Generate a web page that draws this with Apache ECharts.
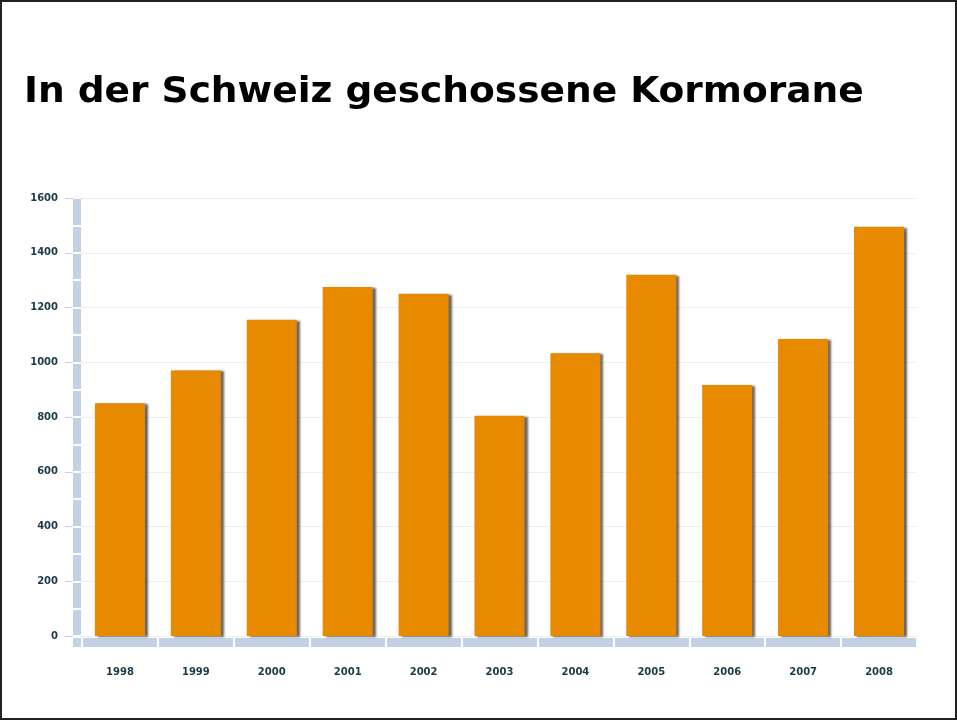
<!DOCTYPE html>
<html>
<head>
<meta charset="utf-8">
<script src="https://cdn.jsdelivr.net/npm/echarts@6/dist/echarts.min.js"></script>
<style>
html,body{margin:0;padding:0;background:#fff;}
#chart{width:957px;height:720px;}
</style>
</head>
<body>
<div id="chart"></div>
<script>
const titleText = 'In der Schweiz geschossene Kormorane';
const years = ['1998','1999','2000','2001','2002','2003','2004','2005','2006','2007','2008'];
const shotCormorants = [850, 970, 1155, 1275, 1250, 805, 1033, 1320, 917, 1085, 1495];
const yTicks = [0, 200, 400, 600, 800, 1000, 1200, 1400, 1600];

const band = '#c2d2e4';
const labelColor = '#1c3a46';
const labelFont = {fontFamily: 'DejaVu Sans', fontWeight: 'bold', fontSize: 10, color: labelColor};

const chart = echarts.init(document.getElementById('chart'));
chart.setOption({
  animation: false,
  backgroundColor: '#fff',
  graphic: [
    {type: 'text', left: 24, top: 75, scaleX: 1.072, z: 50,
     style: {text: titleText, fontFamily: 'DejaVu Sans', fontWeight: 'bold', fontSize: 35, fill: '#000'}},
    {type: 'rect', shape: {x: 1, y: 1, width: 955, height: 718}, style: {fill: 'none', stroke: '#222', lineWidth: 2}, z: 100},
    {type: 'rect', shape: {x: 73, y: 638, width: 8, height: 9}, style: {fill: band}, z: 10}
  ],
  grid: [
    {left: 82, right: 40, top: 198, height: 438, containLabel: false},
    {left: 73, width: 8, top: 198, height: 438, show: true, backgroundColor: band, borderWidth: 0},
    {left: 82, right: 40, top: 638, height: 9, show: true, backgroundColor: band, borderWidth: 0}
  ],
  xAxis: [
    {gridIndex: 0, type: 'category', data: years, boundaryGap: true,
     axisLine: {show: false}, axisTick: {show: false}, splitLine: {show: false},
     axisLabel: Object.assign({margin: 31, interval: 0}, labelFont)},
    {gridIndex: 1, type: 'value', show: false},
    {gridIndex: 2, type: 'category', data: years, boundaryGap: true, z: 6,
     axisLine: {show: false}, axisTick: {show: false}, axisLabel: {show: false},
     splitLine: {show: true, interval: 0, lineStyle: {color: '#fff', width: 2}}}
  ],
  yAxis: [
    {gridIndex: 0, type: 'value', min: 0, max: 1600, interval: 200,
     axisLine: {show: false},
     axisTick: {show: true, length: 17, lineStyle: {color: band, width: 1}},
     splitLine: {show: true, lineStyle: {color: '#efefef', width: 1}},
     axisLabel: Object.assign({margin: 24, formatter: v => yTicks.includes(v) ? String(v) : ''}, labelFont)},
    {gridIndex: 1, type: 'value', min: 0, max: 1600, interval: 100, z: 6,
     axisLine: {show: false}, axisTick: {show: false}, axisLabel: {show: false},
     splitLine: {show: true, lineStyle: {color: '#fff', width: 2}}},
    {gridIndex: 2, type: 'value', show: false, min: 0, max: 1}
  ],
  series: [{
    type: 'bar', xAxisIndex: 0, yAxisIndex: 0, data: shotCormorants,
    barWidth: '66%', z: 3,
    itemStyle: {color: '#e88a00', shadowColor: 'rgba(0,0,0,0.6)', shadowOffsetX: 3, shadowOffsetY: 1, shadowBlur: 2}
  }]
});
</script>
</body>
</html>
